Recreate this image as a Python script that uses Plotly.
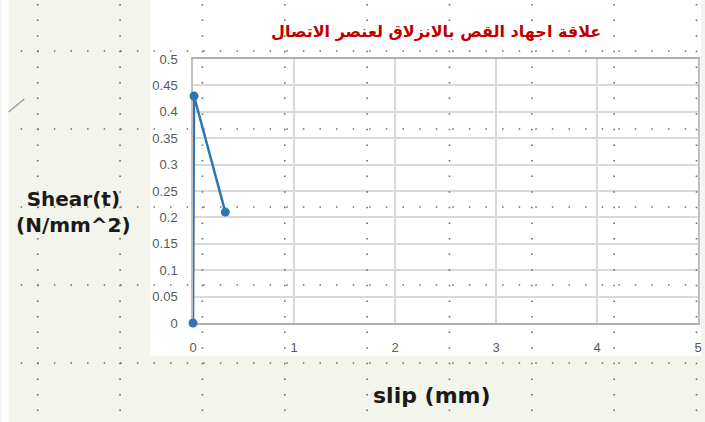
import plotly.graph_objects as go

# ---- data ----
slip_mm = [0, 0.01, 0.32]
shear = [0, 0.43, 0.21]

x_tickvals = [0, 1, 2, 3, 4, 5]
x_ticktext = ["0", "1", "2", "3", "4", "5"]
y_tickvals = [0, 0.05, 0.1, 0.15, 0.2, 0.25, 0.3, 0.35, 0.4, 0.45, 0.5]
y_ticktext = ["0", "0.05", "0.1", "0.15", "0.2", "0.25", "0.3", "0.35", "0.4", "0.45", "0.5"]

title_text = "علاقة اجهاد القص بالانزلاق لعنصر الاتصال"
ytitle_text = "Shear(t)<br>(N/mm^2)"
xtitle_text = "slip (mm)"

# ---- layout geometry (pixels) ----
W, H = 705, 422
L, R, T, B = 193, 3, 59, 99
PW, PH = W - L - R, H - T - B


def px(x):
    return (x - L) / PW


def py(y):
    return (H - B - y) / PH


fig = go.Figure()
fig.add_trace(go.Scatter(
    x=slip_mm, y=shear, mode="lines+markers",
    line=dict(color="#2e75b6", width=2.5),
    marker=dict(color="#2e75b6", size=9),
    cliponaxis=False, showlegend=False,
))

shapes = []
# white chart-area background
shapes.append(dict(type="rect", xref="paper", yref="paper", layer="below",
                   x0=px(150), x1=px(W), y0=py(356), y1=py(0),
                   fillcolor="white", line=dict(width=0)))
shapes.append(dict(type="rect", xref="paper", yref="paper", layer="below",
                   x0=px(0), x1=px(7), y0=py(H), y1=py(0),
                   fillcolor="white", line=dict(width=0)))
# small diagonal stroke
shapes.append(dict(type="line", xref="paper", yref="paper", layer="above",
                   x0=px(7), y0=py(112), x1=px(23), y1=py(99),
                   line=dict(color="#9a9a9a", width=1.5)))
# dotted slide guides
dot_color = "#6b6b6b"
for cx in [36.5 + 83 * k for k in range(9)]:
    shapes.append(dict(type="line", xref="paper", yref="paper", layer="above",
                       x0=px(cx), x1=px(cx), y0=py(4.0), y1=py(H),
                       line=dict(color=dot_color, width=1.6, dash="1.5px,14.1px")))
for ry in [51 + 78 * k for k in range(5)]:
    shapes.append(dict(type="line", xref="paper", yref="paper", layer="above",
                       x0=px(19.3), x1=px(W), y0=py(ry), y1=py(ry),
                       line=dict(color=dot_color, width=1.6, dash="1.5px,15.1px")))

annotations = [
    dict(text=ytitle_text, xref="paper", yref="paper", x=px(73), y=py(211.5),
         showarrow=False, xanchor="center", yanchor="middle", align="center",
         font=dict(family="DejaVu Sans", size=20, color="#1a1a1a", weight="bold")),
    dict(text=xtitle_text, xref="paper", yref="paper", x=px(434), y=py(396),
         showarrow=False, xanchor="center", yanchor="middle",
         font=dict(family="DejaVu Sans", size=22, color="#1a1a1a", weight="bold")),
    dict(text=title_text, xref="paper", yref="paper", x=px(438), y=py(31),
         showarrow=False, xanchor="center", yanchor="middle",
         font=dict(family="DejaVu Sans", size=16, color="#c00000", weight="bold")),
]

fig.update_layout(
    width=W, height=H,
    margin=dict(l=L, r=R, t=T, b=B, pad=0),
    paper_bgcolor="#f3f5ec", plot_bgcolor="white",
    shapes=shapes, annotations=annotations,
    xaxis=dict(range=[0, 5], tickvals=x_tickvals, ticktext=x_ticktext,
               showgrid=True, gridcolor="#d9d9d9", gridwidth=1.5,
               showline=True, linecolor="#b0b0b0", linewidth=1.5, mirror=True,
               zeroline=False, ticks="", ticklabelstandoff=12, layer="below traces",
               tickfont=dict(family="Liberation Sans", size=13, color="#595959")),
    yaxis=dict(range=[0, 0.5], tickvals=y_tickvals, ticktext=y_ticktext,
               showgrid=True, gridcolor="#d9d9d9", gridwidth=1.5,
               showline=True, linecolor="#bfbfbf", linewidth=1.5, mirror=True,
               zeroline=False, ticks="", ticklabelstandoff=11, layer="below traces",
               tickfont=dict(family="Liberation Sans", size=13, color="#595959")),
)

fig.write_html("out.html", config={"displayModeBar": False},
               post_script="document.body.style.margin='0';")
